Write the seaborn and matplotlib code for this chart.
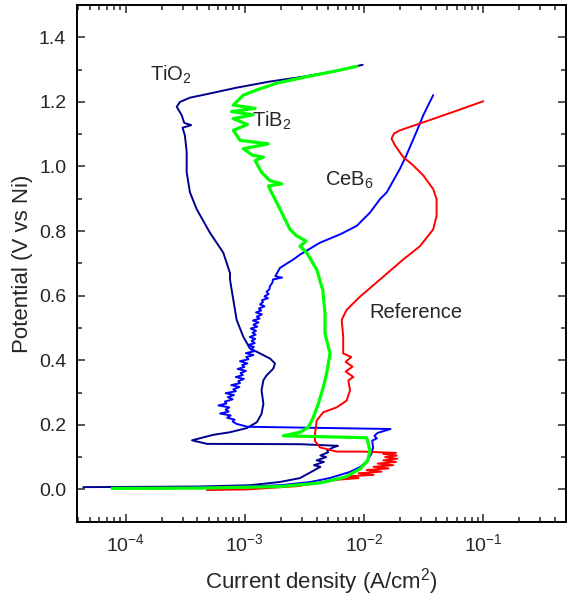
import numpy as np
import pandas as pd
import matplotlib
matplotlib.use("Agg")
import matplotlib.pyplot as plt
import seaborn as sns
from matplotlib.ticker import LogLocator, MultipleLocator

# ---------------- data (current density A/cm^2, potential V vs Ni) ----------------
tio2_i = [4.41e-5, 4.20e-4, 1.10e-3, 1.97e-3, 2.90e-3, 3.72e-3, 4.3e-3, 3.8e-3, 4.6e-3, 4.0e-3,
          4.8e-3, 4.3e-3, 5.0e-3, 4.9e-3, 5.5e-3, 6.04e-3, 2.9e-3, 4.81e-4, 3.60e-4, 5.43e-4,
          7.50e-4, 1.04e-3, 1.26e-3, 1.38e-3, 1.43e-3, 1.38e-3, 1.43e-3, 1.52e-3, 1.73e-3, 1.79e-3,
          1.63e-3, 1.34e-3, 1.10e-3, 9.70e-4, 8.53e-4, 8.00e-4, 7.50e-4, 7.50e-4, 6.59e-4, 5.09e-4,
          3.94e-4, 3.46e-4, 3.25e-4, 3.25e-4, 3.14e-4, 3.00e-4, 3.55e-4, 3.10e-4, 2.95e-4, 2.68e-4,
          2.86e-4, 3.46e-4, 5.09e-4, 8.53e-4, 1.62e-3, 3.09e-3, 5.89e-3, 9.73e-3]
tio2_v = [0.007, 0.009, 0.013, 0.023, 0.035, 0.057, 0.070, 0.075, 0.085, 0.090,
          0.100, 0.105, 0.115, 0.120, 0.130, 0.135, 0.140, 0.141, 0.152, 0.169,
          0.177, 0.190, 0.208, 0.234, 0.265, 0.307, 0.338, 0.353, 0.374, 0.390,
          0.405, 0.421, 0.437, 0.473, 0.525, 0.587, 0.650, 0.670, 0.733, 0.795,
          0.868, 0.920, 0.982, 1.045, 1.096, 1.120, 1.128, 1.135, 1.159, 1.185,
          1.200, 1.213, 1.226, 1.244, 1.263, 1.278, 1.296, 1.315]

ceb6_i = [1.60e-4, 6.17e-4, 2.00e-3, 3.55e-3, 5.13e-3, 7.59e-3, 9.33e-3, 1.06e-2, 1.15e-2, 1.19e-2,
          1.17e-2, 1.28e-2, 1.22e-2, 1.30e-2, 1.67e-2, 1.05e-3,
          8.5e-4, 7.9e-4, 8.2e-4, 7.1e-4, 7.6e-4, 6.2e-4, 7.3e-4, 6.9e-4, 7.4e-4, 6.0e-4,
          7.0e-4, 6.8e-4, 7.9e-4, 7.2e-4, 8.1e-4, 6.9e-4, 8.4e-4, 8.0e-4, 9.0e-4, 7.7e-4,
          9.1e-4, 8.8e-4, 9.8e-4, 8.4e-4, 9.6e-4, 9.2e-4, 1.02e-3, 8.7e-4, 9.9e-4, 9.5e-4,
          1.05e-3, 9.1e-4, 1.07e-3, 1.03e-3, 1.18e-3, 1.02e-3, 1.20e-3, 1.12e-3, 1.19e-3, 1.06e-3,
          1.21e-3, 1.14e-3, 1.22e-3, 1.10e-3, 1.23e-3, 1.16e-3, 1.24e-3, 1.12e-3, 1.27e-3, 1.18e-3,
          1.30e-3, 1.17e-3, 1.33e-3, 1.26e-3, 1.39e-3, 1.24e-3, 1.37e-3, 1.31e-3, 1.46e-3, 1.34e-3,
          1.42e-3, 1.39e-3, 1.56e-3, 1.46e-3, 1.58e-3, 1.52e-3, 1.61e-3, 1.62e-3, 1.70e-3, 1.72e-3,
          2.05e-3, 1.80e-3, 1.97e-3,
          2.55e-3, 2.90e-3, 4.27e-3, 6.31e-3, 8.67e-3, 1.12e-2, 1.36e-2, 1.55e-2, 2.00e-2, 2.26e-2,
          2.75e-2, 3.14e-2, 3.80e-2]
ceb6_v = [0.0025, 0.007, 0.013, 0.023, 0.035, 0.054, 0.070, 0.088, 0.110, 0.129,
          0.151, 0.158, 0.166, 0.175, 0.187, 0.194,
          0.203, 0.210, 0.216, 0.222, 0.229, 0.235, 0.241, 0.247, 0.254, 0.260,
          0.266, 0.272, 0.279, 0.286, 0.292, 0.298, 0.304, 0.310, 0.317, 0.323,
          0.329, 0.335, 0.342, 0.348, 0.354, 0.360, 0.367, 0.373, 0.379, 0.385,
          0.390, 0.397, 0.403, 0.410, 0.416, 0.422, 0.428, 0.434, 0.441, 0.447,
          0.453, 0.460, 0.466, 0.472, 0.479, 0.485, 0.491, 0.498, 0.504, 0.510,
          0.517, 0.523, 0.529, 0.535, 0.542, 0.548, 0.554, 0.560, 0.567, 0.573,
          0.580, 0.586, 0.592, 0.598, 0.605, 0.612, 0.620, 0.629, 0.640, 0.650,
          0.656, 0.660, 0.686,
          0.712, 0.727, 0.764, 0.790, 0.816, 0.857, 0.899, 0.920, 0.993, 1.034,
          1.107, 1.159, 1.221]

tib2_i = [7.69e-5, 4.20e-4, 2.00e-3, 4.27e-3, 6.92e-3, 9.23e-3, 1.07e-2, 1.12e-2, 1.07e-2, 1.05e-2,
          2.10e-3, 2.90e-3, 3.40e-3, 3.75e-3, 4.13e-3, 4.55e-3, 4.85e-3, 5.18e-3, 5.01e-3, 4.70e-3,
          4.70e-3, 4.50e-3, 4.00e-3, 3.30e-3, 2.90e-3, 3.26e-3, 2.72e-3, 2.39e-3, 1.97e-3, 1.62e-3,
          1.58e-3, 2.04e-3, 1.62e-3, 1.38e-3, 1.22e-3, 1.43e-3, 1.17e-3, 9.70e-4, 1.57e-3, 9.10e-4,
          8.00e-4, 1.05e-3, 8.00e-4, 1.17e-3, 7.74e-4, 1.22e-3, 8.00e-4, 9.70e-4, 1.26e-3, 1.85e-3,
          3.30e-3, 5.52e-3, 8.67e-3]
tib2_v = [0.003, 0.004, 0.009, 0.020, 0.038, 0.063, 0.088, 0.120, 0.151, 0.160,
          0.166, 0.177, 0.192, 0.223, 0.265, 0.317, 0.359, 0.421, 0.442, 0.483,
          0.546, 0.618, 0.681, 0.733, 0.753, 0.769, 0.785, 0.805, 0.868, 0.930,
          0.940, 0.946, 0.956, 0.982, 1.018, 1.029, 1.034, 1.055, 1.070, 1.081,
          1.112, 1.130, 1.148, 1.160, 1.170, 1.180, 1.190, 1.221, 1.237, 1.258,
          1.278, 1.294, 1.310]

ref_i = [4.81e-4, 1.04e-3, 2.72e-3, 5.18e-3, 6.0e-3, 9.0e-3, 7.0e-3, 1.2e-2, 9.0e-3, 1.4e-2,
         1.05e-2, 1.6e-2, 1.2e-2, 1.75e-2, 1.3e-2, 1.85e-2, 1.45e-2, 1.9e-2, 1.5e-2, 1.88e-2,
         1.45e-2, 1.85e-2, 9.84e-3, 5.89e-3, 4.27e-3, 3.87e-3, 3.87e-3, 4.00e-3, 4.55e-3, 5.89e-3,
         7.14e-3, 7.62e-3, 7.38e-3, 8.13e-3, 7.0e-3, 8.0e-3, 7.0e-3, 7.8e-3, 6.68e-3, 6.68e-3,
         6.49e-3, 7.14e-3, 9.25e-3, 1.36e-2, 2.13e-2, 2.94e-2, 3.80e-2, 4.06e-2, 4.06e-2, 3.80e-2,
         3.14e-2, 2.59e-2, 2.13e-2, 1.82e-2, 1.70e-2, 1.78e-2, 2.00e-2, 2.94e-2, 5.60e-2, 1.00e-1]
ref_v = [-0.002, 0.000, 0.010, 0.026, 0.030, 0.035, 0.040, 0.045, 0.050, 0.055,
         0.060, 0.065, 0.070, 0.075, 0.080, 0.085, 0.090, 0.095, 0.100, 0.105,
         0.110, 0.113, 0.117, 0.117, 0.130, 0.150, 0.171, 0.213, 0.239, 0.254,
         0.275, 0.307, 0.338, 0.348, 0.365, 0.380, 0.395, 0.410, 0.421, 0.473,
         0.525, 0.556, 0.597, 0.650, 0.712, 0.753, 0.805, 0.847, 0.899, 0.930,
         0.972, 1.003, 1.029, 1.065, 1.086, 1.102, 1.112, 1.133, 1.169, 1.202]

labels = ["TiO$_2$", "TiB$_2$", "CeB$_6$", "Reference"]
label_x = [1.6e-4, 1.15e-3, 4.7e-3, 1.1e-2]
label_y = [1.283, 1.142, 0.958, 0.547]

colors = {"TiO2": "#00008F", "CeB6": "#0000FF", "TiB2": "#00FF00", "Reference": "#FF0000"}
widths = {"TiO2": 1.4, "CeB6": 1.4, "TiB2": 2.3, "Reference": 1.4}

# ---------------- plotting ----------------
sns.set_style("ticks")
plt.rcParams["font.family"] = ["Liberation Sans", "DejaVu Sans"]
plt.rcParams["mathtext.default"] = "regular"

fig = plt.figure(figsize=(5.67, 6.0), dpi=100)
ax = fig.add_axes([77.3 / 567, 1 - 521.7 / 600, (566 - 77.3) / 567, (521.7 - 5) / 600])

series = [("TiO2", tio2_i, tio2_v), ("CeB6", ceb6_i, ceb6_v),
          ("Reference", ref_i, ref_v), ("TiB2", tib2_i, tib2_v)]
for name, xi, yv in series:
    df = pd.DataFrame({"current": xi, "potential": yv})
    sns.lineplot(data=df, x="current", y="potential", sort=False, estimator=None,
                 color=colors[name], lw=widths[name], ax=ax)

ax.set_xscale("log")
ax.set_xlim(3.93e-5, 0.494)
ax.set_ylim(-0.1, 1.5)
ax.xaxis.set_major_locator(LogLocator(base=10, numticks=10))
ax.xaxis.set_minor_locator(LogLocator(base=10, subs=np.arange(2, 10), numticks=20))
ax.yaxis.set_minor_locator(MultipleLocator(0.1))
ax.set_yticks([0.0, 0.2, 0.4, 0.6, 0.8, 1.0, 1.2, 1.4])
ax.set_yticklabels(["0.0", "0.2", "0.4", "0.6", "0.8", "1.0", "1.2", "1.4"])

ax.tick_params(which="both", direction="in", top=True, right=True, width=1.1, labelsize=14)
ax.tick_params(which="major", length=6, pad=8)
ax.tick_params(which="minor", length=3.5)
for s in ax.spines.values():
    s.set_linewidth(1.4)
    s.set_color("black")

ax.set_xlabel("Current density (A/cm$^2$)", fontsize=16, labelpad=8)
ax.set_ylabel("Potential (V vs Ni)", fontsize=16, labelpad=4)

for t, x, y in zip(labels, label_x, label_y):
    ax.text(x, y, t, fontsize=14.5, ha="left", va="center")

fig.savefig("out.png", dpi=100)
